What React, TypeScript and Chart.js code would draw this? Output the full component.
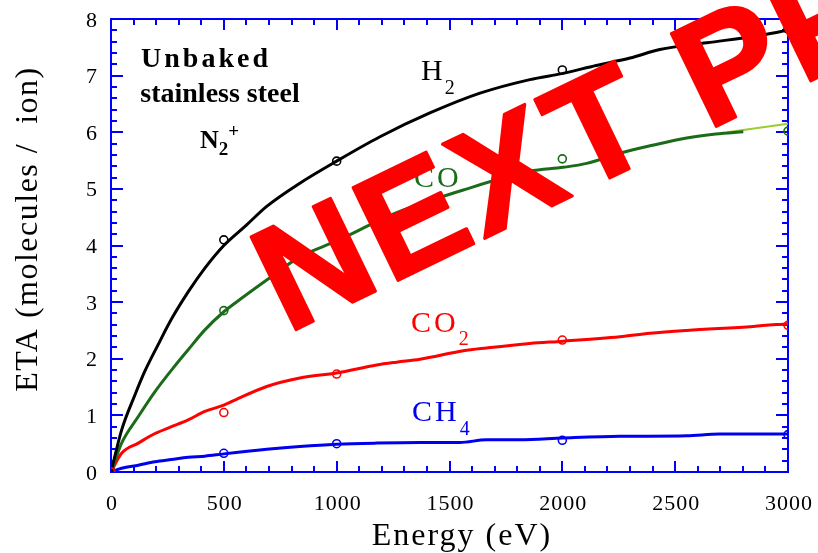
import React, { useEffect, useRef } from "react";
import { Chart, registerables } from "chart.js";

Chart.register(...registerables);

// Measured points (open circles)
const markerEnergy = [0, 500, 1000, 2000, 3000];
const h2Measured = [0, 4.1, 5.49, 7.1, 7.82];
const coMeasured = [0, 2.85, 4.03, 5.53, 6.02];
const co2Measured = [0, 1.05, 1.73, 2.33, 2.59];
const ch4Measured = [0, 0.33, 0.5, 0.56, 0.66];

// Fitted curves
const h2FitE = [0, 47, 106, 150, 209, 268, 342, 416, 500, 600, 690, 837, 1000, 1192, 1413, 1635, 1856, 2003, 2150, 2300, 2432, 2640, 2845, 3000];
const h2FitV = [0, 0.74, 1.36, 1.78, 2.25, 2.7, 3.18, 3.6, 4.0, 4.36, 4.69, 5.1, 5.49, 5.92, 6.34, 6.69, 6.93, 7.04, 7.18, 7.31, 7.46, 7.58, 7.69, 7.8];

const coFitE = [0, 47, 121, 195, 268, 342, 416, 500, 549, 690, 837, 1000, 1177, 1266, 1561, 1856, 2004, 2108, 2255, 2400, 2551, 2680, 2802];
const coFitV = [0, 0.51, 0.98, 1.42, 1.8, 2.16, 2.51, 2.83, 2.98, 3.39, 3.8, 4.08, 4.42, 4.58, 4.98, 5.31, 5.38, 5.45, 5.63, 5.77, 5.9, 5.97, 6.01];
const coTailE = [2730, 3000];
const coTailV = [6.0, 6.15];

const co2FitE = [0, 47, 121, 195, 268, 342, 416, 500, 549, 690, 837, 1000, 1177, 1266, 1369, 1561, 1664, 1856, 2004, 2255, 2388, 2551, 2846, 3000];
const co2FitV = [0, 0.33, 0.51, 0.68, 0.8, 0.92, 1.07, 1.18, 1.27, 1.51, 1.66, 1.75, 1.89, 1.94, 1.99, 2.14, 2.19, 2.27, 2.31, 2.39, 2.45, 2.5, 2.57, 2.62];

const ch4FitE = [0, 47, 121, 195, 268, 342, 416, 500, 690, 837, 1000, 1177, 1369, 1546, 1664, 1812, 2004, 2255, 2551, 2697, 3000];
const ch4FitV = [0, 0.065, 0.12, 0.18, 0.22, 0.26, 0.28, 0.32, 0.4, 0.45, 0.49, 0.51, 0.52, 0.52, 0.57, 0.57, 0.6, 0.63, 0.64, 0.67, 0.67];

const xMin = 0, xMax = 3000, xMajor = 500, xMinor = 100;
const yMin = 0, yMax = 8, yMajor = 1, yMinor = 0.2;

const BLACK = "#000000";
const GREEN = "#1a6b1a";
const RED = "#ff0000";
const BLUE = "#0000ee";
const AXIS = "#0000ff";
const TAIL = "#9acd32";
const SERIF = "'Liberation Serif', 'Times New Roman', serif";

const pts = (xs: number[], ys: number[]) => xs.map((x, i) => ({ x, y: ys[i] }));

type Part = { t: string; font: string; dy?: number; ls?: number };
function drawParts(ctx: CanvasRenderingContext2D, parts: Part[], x: number, y: number, color: string) {
  let cx = x;
  ctx.fillStyle = color;
  ctx.textAlign = "left";
  ctx.textBaseline = "alphabetic";
  for (const p of parts) {
    ctx.font = p.font;
    (ctx as any).letterSpacing = (p.ls || 0) + "px";
    ctx.fillText(p.t, cx, y + (p.dy || 0));
    cx += ctx.measureText(p.t).width;
  }
  (ctx as any).letterSpacing = "0px";
}

const framePlugin = {
  id: "frame",
  beforeDatasetsDraw(chart: any) {
    const { ctx, chartArea: a, scales } = chart;
    const xs = scales.x, ys = scales.y;
    ctx.save();
    ctx.strokeStyle = AXIS;
    ctx.lineWidth = 2;
    ctx.strokeRect(a.left, a.top, a.right - a.left, a.bottom - a.top);
    ctx.beginPath();
    for (let k = 0; k <= Math.round((xMax - xMin) / xMinor); k++) {
      const v = xMin + k * xMinor;
      const px = Math.round(xs.getPixelForValue(v));
      const len = k % Math.round(xMajor / xMinor) === 0 ? 11 : 6;
      ctx.moveTo(px, a.bottom); ctx.lineTo(px, a.bottom - len);
      ctx.moveTo(px, a.top); ctx.lineTo(px, a.top + len);
    }
    for (let k = 0; k <= Math.round((yMax - yMin) / yMinor); k++) {
      const v = yMin + k * yMinor;
      const py = Math.round(ys.getPixelForValue(v));
      const len = k % Math.round(yMajor / yMinor) === 0 ? 12 : 6;
      ctx.moveTo(a.left, py); ctx.lineTo(a.left + len, py);
      ctx.moveTo(a.right, py); ctx.lineTo(a.right - len, py);
    }
    ctx.stroke();

    // tick labels from the scales' own ticks
    ctx.fillStyle = BLACK;
    ctx.font = `22px ${SERIF}`;
    (ctx as any).letterSpacing = "1px";
    ctx.textBaseline = "alphabetic";
    ctx.textAlign = "center";
    for (const t of xs.ticks) {
      ctx.fillText(String(t.value), xs.getPixelForValue(t.value) + 1, a.bottom + 38);
    }
    ctx.textAlign = "right";
    for (const t of ys.ticks) {
      ctx.fillText(String(t.value), a.left - 13, ys.getPixelForValue(t.value) + 7.5);
    }
    (ctx as any).letterSpacing = "0px";
    ctx.restore();
  },
  afterDatasetsDraw(chart: any) {
    const { ctx } = chart;
    ctx.save();
    const b28 = `bold 28px ${SERIF}`;
    ctx.fillStyle = BLACK;
    ctx.textAlign = "center";
    ctx.textBaseline = "alphabetic";
    ctx.font = b28;
    (ctx as any).letterSpacing = "3px";
    ctx.fillText("Unbaked", 206, 67);
    (ctx as any).letterSpacing = "0px";
    ctx.fillText("stainless steel", 220, 102);
    drawParts(ctx, [
      { t: "N", font: `bold 26px ${SERIF}` },
      { t: "2", font: `bold 19px ${SERIF}`, dy: 7 },
      { t: "+", font: `bold 19px ${SERIF}`, dy: -11 },
    ], 200, 148, BLACK);

    const lab = `30px ${SERIF}`;
    const sub = `20px ${SERIF}`;
    drawParts(ctx, [{ t: "H", font: lab, ls: 2 }, { t: "2", font: sub, dy: 14 }], 421, 80, BLACK);
    drawParts(ctx, [{ t: "CO", font: lab, ls: 3 }], 414, 187, GREEN);
    drawParts(ctx, [{ t: "CO", font: lab, ls: 3 }, { t: "2", font: sub, dy: 13 }], 411, 332, RED);
    drawParts(ctx, [{ t: "CH", font: lab, ls: 3 }, { t: "4", font: sub, dy: 14 }], 412, 421, BLUE);

    // axis titles
    ctx.fillStyle = BLACK;
    ctx.font = `32px ${SERIF}`;
    (ctx as any).letterSpacing = "2px";
    ctx.textAlign = "center";
    ctx.textBaseline = "alphabetic";
    ctx.fillText("Energy (eV)", 462, 545);
    ctx.save();
    ctx.translate(37, 229);
    ctx.rotate(-Math.PI / 2);
    (ctx as any).letterSpacing = "1.5px";
    ctx.fillText("ETA (molecules /  ion)", 0, 0);
    ctx.restore();
    (ctx as any).letterSpacing = "0px";
    ctx.restore();
  },
  afterDraw(chart: any) {
    const { ctx } = chart;
    ctx.save();
    ctx.translate(287, 334);
    ctx.rotate((-25.8 * Math.PI) / 180);
    ctx.font = `bold 150px 'Liberation Sans', Arial, sans-serif`;
    (ctx as any).letterSpacing = "5px";
    ctx.textAlign = "left";
    ctx.textBaseline = "alphabetic";
    ctx.fillStyle = "#ff0000";
    ctx.strokeStyle = "#ff0000";
    ctx.lineJoin = "round";
    ctx.lineWidth = 3;
    ctx.fillText("NEXT PR", 0, 0);
    ctx.strokeText("NEXT PR", 0, 0);
    ctx.restore();
  },
};

export default function App() {
  const ref = useRef<HTMLCanvasElement>(null);
  useEffect(() => {
    document.body.style.margin = "0";
    const canvas = ref.current!;
    const lineDs = (label: string, xs: number[], ys: number[], color: string, w = 3) => ({
      label,
      data: pts(xs, ys),
      showLine: true,
      borderColor: color,
      backgroundColor: color,
      borderWidth: w,
      pointRadius: 0,
      cubicInterpolationMode: "monotone" as const,
      order: 5,
    });
    const markDs = (label: string, ys: number[], color: string, order: number) => ({
      label,
      data: pts(markerEnergy, ys),
      showLine: false,
      borderColor: color,
      backgroundColor: "rgba(255,255,255,0)",
      pointRadius: 4,
      pointBorderWidth: 1.6,
      order,
    });
    const chart = new Chart(canvas, {
      type: "scatter",
      data: {
        datasets: [
          markDs("H2 data", h2Measured, BLACK, 4),
          markDs("CO data", coMeasured, GREEN, 3),
          markDs("CH4 data", ch4Measured, BLUE, 2),
          markDs("CO2 data", co2Measured, RED, 1),
          lineDs("H2", h2FitE, h2FitV, BLACK),
          lineDs("CO", coFitE, coFitV, GREEN),
          lineDs("CO tail", coTailE, coTailV, TAIL, 2),
          lineDs("CO2", co2FitE, co2FitV, RED),
          lineDs("CH4", ch4FitE, ch4FitV, BLUE),
        ] as any,
      },
      options: {
        animation: false,
        responsive: false,
        events: [],
        layout: { padding: { top: 19, right: 30, left: 0, bottom: 0 } },
        plugins: { legend: { display: false }, tooltip: { enabled: false } },
        scales: {
          x: {
            type: "linear",
            min: xMin,
            max: xMax,
            ticks: { stepSize: xMajor, display: false },
            grid: { display: false, drawTicks: false },
            border: { display: false },
            afterFit: (s: any) => { s.height = 81; },
          },
          y: {
            type: "linear",
            min: yMin,
            max: yMax,
            ticks: { stepSize: yMajor, display: false },
            grid: { display: false, drawTicks: false },
            border: { display: false },
            afterFit: (s: any) => { s.width = 111; },
          },
        },
      } as any,
      plugins: [framePlugin],
    });
    return () => chart.destroy();
  }, []);
  return <canvas ref={ref} width={818} height={553} style={{ display: "block" }} />;
}
